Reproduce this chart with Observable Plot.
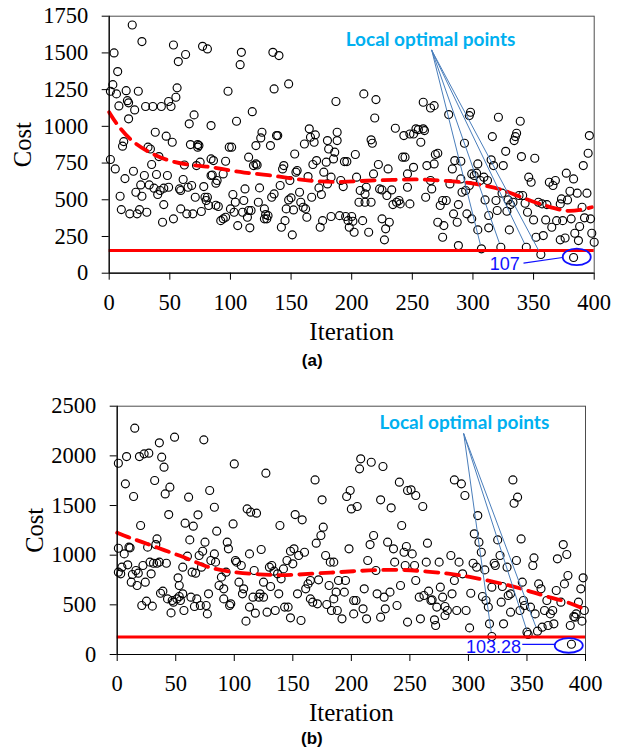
<!DOCTYPE html>
<html><head><meta charset="utf-8">
<script src="https://cdn.jsdelivr.net/npm/d3@7"></script>
<script src="https://cdn.jsdelivr.net/npm/@observablehq/plot@0.6"></script>
<style>
html,body{margin:0;padding:0;background:#fff;}
#chart svg{display:block;}
</style></head><body><div id="chart"></div>
<script>
// ---- tick labels ----
const xTicks = [0,50,100,150,200,250,300,350,400];
const yTicksA = [0,250,500,750,1000,1250,1500,1750];
const yTicksB = [0,500,1000,1500,2000,2500];

// ---- panel (a): [iteration, cost] ----
const pointsA1 = [[1,1239],[3,1284],[4,1500],[1,774],[5,710],[6,1221],[7,1373],[8,1139],[9,524],[10,433],[11,865],[12,896],[13,644],[14,1243],[15,1175],[16,1160],[16,1051],[17,404],[19,1690],[20,694],[21,1112],[22,551],[23,404],[24,1239],[25,433],[26,601],[27,524],[27,1577],[29,665],[30,1135],[31,415],[32,858],[33,601],[34,846],[35,740],[36,1135],[37,579],[38,960],[39,672],[40,536],[41,794],[42,563],[43,1135],[44,347],[45,467],[45,579],[47,933],[48,665],[49,1169],[49,585],[51,1135],[52,892],[53,370],[53,1554],[55,1198],[56,1262],[57,1441],[58,574],[59,563],[59,438],[61,638],[62,737],[63,1489],[64,404],[65,585],[66,1017],[67,876],[68,597],[69,404],[70,1078],[71,517],[72,733],[73,876],[73,858],[74,869],[75,756],[76,420],[77,1545],[78,590],[79,517],[80,495],[81,517],[81,1527],[82,461],[84,1005],[84,778],[84,665]];
const pointsA2 = [[86,767],[85,669],[88,613],[89,631],[88,463],[90,454],[92,358],[94,370],[96,381],[94,676],[96,762],[98,1239],[99,858],[101,858],[100,438],[102,536],[103,415],[104,483],[105,1035],[106,324],[108,1420],[109,1504],[110,415],[111,495],[112,574],[114,381],[115,427],[115,790],[116,309],[117,427],[118,1100],[119,733],[121,744],[122,737],[121,869],[123,483],[124,581],[125,921],[126,960],[128,438],[128,370],[129,399],[130,370],[131,392],[133,869],[134,517],[135,1504],[136,1255],[136,540],[138,937],[139,937],[140,1482],[141,597],[142,313],[143,710],[144,733],[145,358],[146,438],[148,499],[148,1289],[149,631],[150,513],[151,261],[152,431],[153,812],[154,688],[155,699],[157,551],[158,483],[160,449],[161,880],[162,438],[163,381],[164,658],[166,926],[165,983],[167,517],[168,740],[169,892],[170,942],[171,767],[173,581],[174,313],[175,536],[176,358],[177,688],[179,756],[180,903],[180,608],[181,846],[183,386],[183,654],[185,778],[186,824],[187,1169],[188,903],[188,960],[190,392],[191,631],[193,590],[194,760],[195,386],[196,760],[197,358],[198,313],[200,386],[201,354],[202,279],[203,808],[204,654],[206,483],[207,563],[209,358],[210,1221],[211,483],[211,540],[212,585],[214,279],[216,483],[216,908],[217,885],[218,676],[219,1057],[220,1182],[222,740],[223,574],[225,567],[225,370],[227,227],[228,302],[229,529],[230,710],[231,347],[233,567],[234,467],[236,987],[237,483],[239,495],[240,472],[242,790],[243,937],[244,790],[246,585],[246,676],[248,948],[248,472]];
const pointsA3 = [[251,948],[251,721],[253,983],[255,978],[257,892],[259,1164],[259,983],[260,971],[261,517],[262,733],[265,631],[265,1125],[266,574],[268,1141],[268,744],[269,808],[271,817],[271,347],[273,461],[275,495],[275,245],[276,324],[278,495],[280,1080],[281,608],[283,710],[284,404],[285,767],[287,347],[288,467],[288,188],[290,642],[290,762],[291,551],[293,885],[294,563],[295,404],[297,597],[297,1073],[298,1096],[299,370],[299,676],[301,665],[303,681],[304,295],[304,744],[306,631],[307,166],[309,654],[310,499],[312,631],[313,309],[313,393],[315,772],[316,930],[317,733],[319,495],[320,427],[321,1062],[323,177],[324,545],[325,733],[327,830],[328,422],[329,499],[330,295],[331,467],[333,483],[334,903],[335,930],[336,953],[338,529],[339,1035],[340,794],[341,529],[343,476],[344,177],[345,415],[346,654],[348,619],[350,363],[351,783],[352,245],[354,483],[356,127],[357,472],[358,256],[360,363],[361,467],[363,619],[365,313],[366,597],[368,631],[369,358],[372,227],[372,472],[373,506],[374,358],[376,240],[377,681],[378,499],[380,558],[381,370],[383,642],[383,107],[384,272],[386,545],[387,222],[388,318],[390,449],[391,733],[392,377],[394,545],[395,817],[396,937],[397,370],[398,272],[400,211]];
const trendA = [[0,1096],[5,1028],[17,905],[33,820],[50,760],[68,735],[80,728],[93,710],[111,683],[131,670],[152,642],[171,625],[192,619],[212,631],[234,635],[255,642],[274,630],[294,620],[307,600],[323,574],[336,529],[353,476],[369,438],[378,420],[389,431],[398,449]];
const baselineA = 155;
const localA = [[307,166],[323,177],[344,177],[356,127]];
const minA = [383, 107];
const minLabelA = "107";

// ---- panel (b): [iteration, cost] ----
const pointsB1 = [[1,1926],[1,829],[1,1070],[3,812],[4,879],[6,1013],[7,1718],[8,1993],[9,903],[10,1081],[11,1074],[12,728],[13,805],[14,1591],[15,2279],[16,846],[17,695],[18,819],[19,1993],[20,1299],[21,493],[22,896],[23,2020],[24,728],[25,537],[26,1081],[27,2027],[28,930],[29,812],[30,487],[31,919],[32,1752],[33,1107],[34,1164],[34,919],[36,2131],[36,930],[37,617],[38,1987],[39,638],[40,1886],[41,1617],[42,919],[43,560],[44,1409],[45,1685],[46,419],[47,544],[48,527],[49,2188],[51,560],[52,772],[53,584],[53,695],[54,544],[56,611],[56,879],[57,443],[58,1322],[60,990],[61,1584],[62,1154],[63,577],[64,829],[65,1292],[66,483],[67,819],[68,560],[69,1406],[70,997],[71,493],[72,879],[73,1040],[74,2161],[75,1131],[76,493],[77,409],[78,611],[79,1651],[80,946]];
const pointsB2 = [[83,1483],[83,1013],[84,930],[85,1242],[87,695],[89,779],[91,661],[91,560],[93,829],[94,1131],[95,1064],[96,493],[97,510],[99,1315],[100,1919],[101,946],[102,930],[104,728],[106,896],[107,611],[108,661],[110,336],[111,1466],[113,1013],[113,477],[114,1433],[116,577],[117,846],[118,416],[119,1423],[121,577],[122,611],[123,1057],[125,728],[125,577],[127,1826],[128,426],[130,879],[131,685],[132,896],[134,839],[135,443],[137,812],[138,611],[139,1299],[140,762],[142,862],[143,477],[145,946],[146,477],[148,369],[148,1040],[150,913],[151,1064],[152,1409],[154,611],[155,997],[157,342],[158,1356],[160,1030],[161,661],[163,711],[165,745],[165,560],[167,527],[169,1758],[171,510],[170,1121],[172,752],[174,1198],[175,1557],[176,1282],[178,997],[179,503],[181,695],[182,930],[183,443],[185,560],[185,930],[187,628],[188,443],[189,745],[192,359],[194,628],[195,745],[196,1591],[198,1064],[199,1651],[200,1466],[202,409],[202,544],[204,544],[205,1490],[207,1869],[208,1970],[210,460],[211,661],[213,359],[214,946],[216,1107],[217,1936],[219,1198],[221,846],[222,611],[225,376],[225,1557],[227,1893],[228,577],[229,460],[231,1131],[233,628],[234,1477],[236,1064],[237,930],[239,493],[241,1735],[242,695],[243,1299],[245,1030],[246,896],[247,1087],[248,326],[248,1651]];
const pointsB3 = [[251,1658],[252,1013],[255,1601],[254,896],[255,745],[259,359],[261,1490],[258,577],[262,594],[264,930],[265,1121],[266,638],[268,544],[269,550],[271,349],[272,292],[273,477],[275,930],[276,678],[278,577],[280,393],[280,483],[282,443],[285,997],[286,611],[288,1758],[288,745],[290,443],[292,930],[294,1718],[295,812],[297,1601],[298,443],[301,268],[302,617],[304,919],[305,1215],[307,879],[308,1399],[309,1131],[311,1030],[312,584],[314,852],[315,544],[317,477],[318,309],[320,678],[320,181],[322,919],[323,896],[325,1154],[327,997],[328,527],[329,685],[330,309],[333,879],[334,594],[336,426],[336,611],[338,1758],[339,1523],[341,946],[342,1584],[344,443],[345,1164],[346,728],[347,544],[348,493],[350,225],[351,201],[353,477],[355,896],[356,973],[357,409],[359,235],[360,711],[362,661],[363,275],[365,443],[367,544],[368,292],[370,409],[372,443],[373,309],[375,644],[376,963],[379,527],[381,1107],[382,711],[384,1007],[385,795],[387,292],[388,103.28],[390,383],[391,376],[392,409],[394,527],[396,661],[397,336],[398,772],[399,443]];
const trendB = [[0,1225],[9,1181],[20,1140],[40,1050],[64,950],[76,879],[96,830],[122,805],[143,795],[168,815],[184,825],[201,838],[222,852],[245,855],[265,835],[283,815],[300,785],[323,730],[347,660],[364,590],[384,535],[400,450]];
const baselineB = 175;
const localB = [[320,181],[351,201],[359,235]];
const minB = [388, 103.28];
const minLabelB = "103.28";

const annText = "Local optimal points";

// ellipse symbol for highlighting the minimum
function ellipse(rx, ry) {
  return {
    draw(ctx) {
      const kx = rx * 0.5523, ky = ry * 0.5523;
      ctx.moveTo(rx, 0);
      ctx.bezierCurveTo(rx, ky, kx, ry, 0, ry);
      ctx.bezierCurveTo(-kx, ry, -rx, ky, -rx, 0);
      ctx.bezierCurveTo(-rx, -ky, -kx, -ry, 0, -ry);
      ctx.bezierCurveTo(kx, -ry, rx, -ky, rx, 0);
      ctx.closePath();
    }
  };
}

function panel(o) {
  const pts = o.points;
  const links = o.local.map(p => ({x1: o.annAnchor[0], y1: o.annAnchor[1], x2: p[0], y2: p[1]}));
  return Plot.plot({
    width: 627, height: 375,
    marginTop: o.mt, marginBottom: o.mb, marginLeft: o.ml, marginRight: o.mr,
    x: {domain: [0, 400]},
    y: {domain: o.yDomain},
    style: {fontFamily: "'Liberation Serif', 'Times New Roman', serif", fontSize: "22.5px", color: "black", background: "white", overflow: "visible"},
    marks: [
      Plot.frame({stroke: "#4d4d4d", strokeWidth: 1}),
      Plot.dot(pts, {x: d => d[0], y: d => d[1], r: 4, stroke: "black", strokeWidth: 1.15, fill: "none"}),
      Plot.ruleY([o.baseline], {stroke: "#ff0000", strokeWidth: 3}),
      Plot.line(o.trend, {x: d => d[0], y: d => d[1], stroke: "#ff0000", strokeWidth: 3.8, strokeDasharray: "13,8", curve: "basis"}),
      Plot.arrow(links, {x1: "x1", y1: "y1", x2: "x2", y2: "y2", headLength: 0, insetEnd: 5, bend: 0, stroke: "#4a7ebb", strokeWidth: 1}),
      Plot.text([annText], {x: o.annText[0], y: o.annText[1], textAnchor: "middle", lineAnchor: "top", fill: "#00b0f0", fontFamily: "Lato, 'Open Sans', sans-serif", fontWeight: "bold", fontSize: 19}),
      Plot.dot([o.ellipseAt], {x: d => d[0], y: d => d[1], symbol: ellipse(14, o.ery), stroke: "#1010ff", strokeWidth: 1.8, fill: "none"}),
      Plot.link([o.leader], {x1: d => d[0], y1: d => d[1], x2: d => d[2], y2: d => d[3], stroke: "#1010ff", strokeWidth: 1.2}),
      Plot.text([o.minLabel], {x: o.minLabelAt[0], y: o.minLabelAt[1], textAnchor: "end", lineAnchor: "top", fill: "#1010ff", fontFamily: "'Liberation Sans', Arial, sans-serif", fontSize: 18}),
      Plot.axisX({ticks: xTicks, tickSize: 7, tickPadding: 14, tickFormat: d => String(d), label: null, fontSize: 22.5}),
      Plot.axisY({ticks: o.yTicks, tickSize: 7, tickPadding: 14, tickFormat: d => String(d), label: null, fontSize: 22.5}),
      Plot.ruleX([0], {stroke: "black", strokeWidth: 1.2}),
      Plot.ruleY([0], {stroke: "black", strokeWidth: 1.2}),
      Plot.text(["Iteration"], {frameAnchor: "bottom", dy: o.iterDy, lineAnchor: "top", fontSize: 25}),
      Plot.text(["Cost"], {frameAnchor: "left", dx: o.costDx, rotate: -90, textAnchor: "middle", lineAnchor: "middle", fontSize: 24.5}),
      Plot.text([o.caption], {frameAnchor: "bottom", dx: -39.5, dy: o.capDy, lineAnchor: "top", fontFamily: "'Liberation Sans', Arial, sans-serif", fontWeight: "bold", fontSize: 17})
    ]
  });
}

const chart = document.getElementById("chart");
chart.append(panel({
  points: pointsA1.concat(pointsA2, pointsA3), trend: trendA, baseline: baselineA, local: localA,
  mt: 15.7, mb: 102.3, ml: 108.7, mr: 33.3, yDomain: [0, 1750], yTicks: yTicksA,
  annAnchor: [266, 1518], annText: [265, 1640],
  ellipseAt: [385.6, minA[1] + 4], ery: 8.3, leader: [341.7, 68, 373.9, 107],
  minLabel: minLabelA, minLabelAt: [338.6, 111],
  iterDy: 49.5, costDx: -85.7, capDy: 81, caption: "(a)"
}));
chart.append(panel({
  points: pointsB1.concat(pointsB2, pointsB3), trend: trendB, baseline: baselineB, local: localB,
  mt: 30.7, mb: 96, ml: 116.7, mr: 42, yDomain: [0, 2500], yTicks: yTicksB,
  annAnchor: [296, 2222], annText: [296.6, 2407],
  ellipseAt: [385.7, minB[1] - 12], ery: 7.3, leader: [346, 101, 374.4, 101],
  minLabel: minLabelB, minLabelAt: [345, 148],
  iterDy: 48.5, costDx: -82.2, capDy: 77.7, caption: "(b)"
}));
</script>
</body></html>
